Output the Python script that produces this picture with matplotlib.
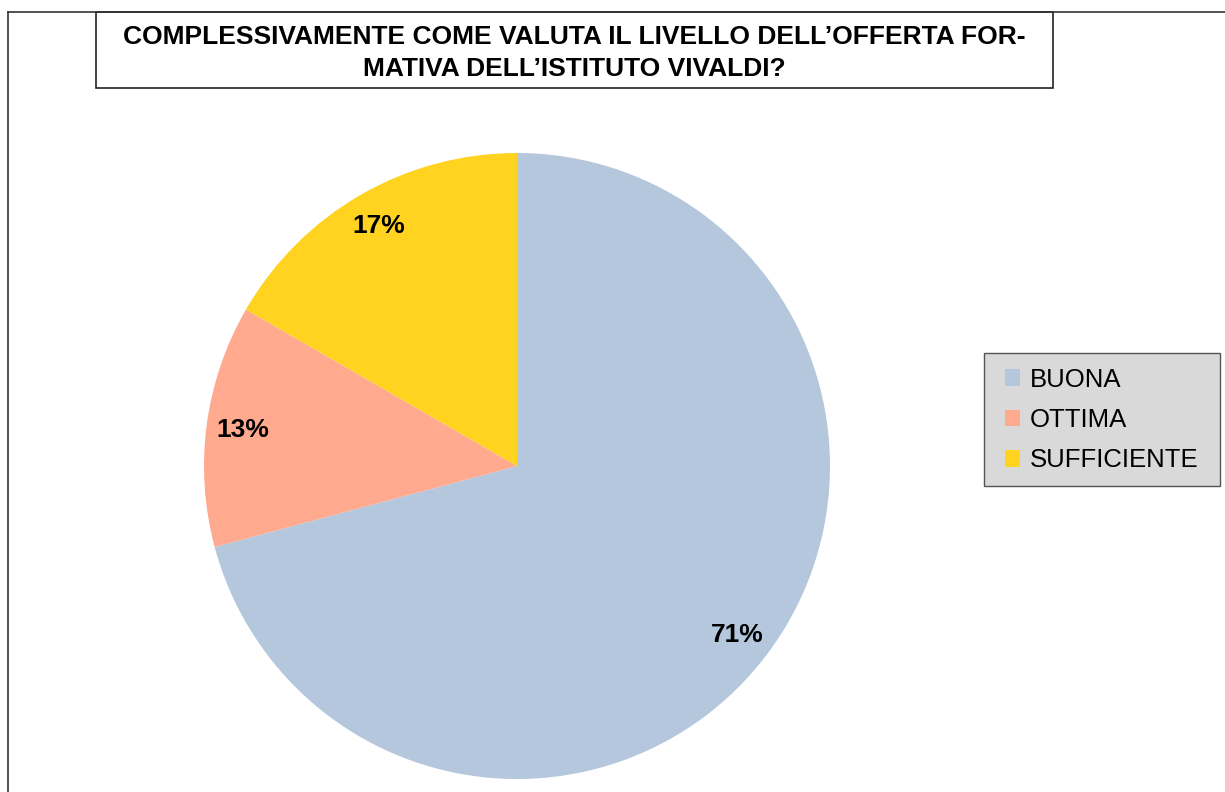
import matplotlib
matplotlib.use("Agg")
import matplotlib.pyplot as plt
from matplotlib.patches import Rectangle
from matplotlib.lines import Line2D

plt.rcParams['font.family'] = ['Liberation Sans', 'DejaVu Sans']

categories = ["BUONA", "OTTIMA", "SUFFICIENTE"]
counts = [17, 3, 4]
colors = ["#b4c7dc", "#ffa98f", "#ffd320"]
title = "COMPLESSIVAMENTE COME VALUTA IL LIVELLO DELL\u2019OFFERTA FOR-\nMATIVA DELL\u2019ISTITUTO VIVALDI?"

W, H = 1225, 792
fig = plt.figure(figsize=(W / 100, H / 100), dpi=100)

cx, cy, r = 517, 466, 313
ax = fig.add_axes([(cx - r) / W, (H - cy - r) / H, 2 * r / W, 2 * r / H])
wedges, texts, autotexts = ax.pie(
    counts, colors=colors, startangle=90, counterclock=False,
    autopct=lambda p: f"{p:.0f}%" if abs(p - 12.5) > 1e-6 else "13%",
    pctdistance=0.885, radius=1,
    wedgeprops=dict(linewidth=0),
    textprops=dict(fontsize=19, fontweight='bold', color='black'))
ax.set_xlim(-1, 1)
ax.set_ylim(-1, 1)
ax.set_aspect('equal')
ax.axis('off')

# outer frame lines (top and left)
fig.add_artist(Line2D([8 / W, 1], [1 - 12 / H, 1 - 12 / H], transform=fig.transFigure,
                      color='#333333', linewidth=1.2))
fig.add_artist(Line2D([8 / W, 8 / W], [0, 1 - 12 / H], transform=fig.transFigure,
                      color='#333333', linewidth=1.2))

# title box
bx0, by0, bx1, by1 = 96, 12, 1053, 88
fig.add_artist(Rectangle((bx0 / W, 1 - by1 / H), (bx1 - bx0) / W, (by1 - by0) / H,
                         transform=fig.transFigure, facecolor='white',
                         edgecolor='#222222', linewidth=1.2))
fig.text((bx0 + bx1) / 2 / W, 1 - ((by0 + by1) / 2 + 3) / H, title, ha='center', va='center',
         fontsize=19, fontweight='bold', linespacing=1.4)

# legend box
lx0, ly0, lx1, ly1 = 984, 353, 1220, 486
fig.add_artist(Rectangle((lx0 / W, 1 - ly1 / H), (lx1 - lx0) / W, (ly1 - ly0) / H,
                         transform=fig.transFigure, facecolor='#d9d9d9',
                         edgecolor='#555555', linewidth=1.0, zorder=1))

leg = fig.legend(wedges, categories, loc='center left',
                 bbox_to_anchor=(1005 / W, 1 - 420 / H),
                 frameon=False,
                 fontsize=18.5, handlelength=0.6, handleheight=0.6,
                 handletextpad=0.35, labelspacing=0.64, borderpad=0,
                 borderaxespad=0)
leg.set_zorder(2)

fig.savefig("out.png", dpi=100)
